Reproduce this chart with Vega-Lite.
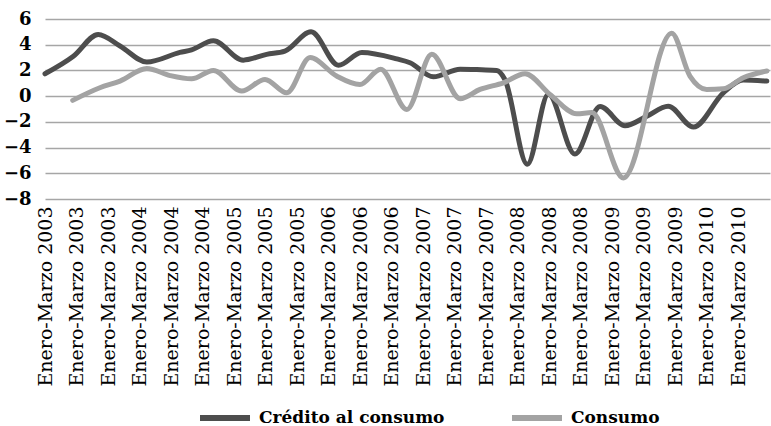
{
  "$schema": "https://vega.github.io/schema/vega-lite/v6.json",
  "autosize": "none",
  "width": 725,
  "height": 180,
  "padding": {"left": 45, "top": 19, "right": 1, "bottom": 227},
  "background": "white",
  "config": {
    "view": {"stroke": null},
    "font": "DejaVu Serif"
  },
  "data": {
    "values": [
      {"serie": "Crédito al consumo", "t": 0, "v": 1.74},
      {"serie": "Crédito al consumo", "t": 0.9, "v": 3.1},
      {"serie": "Crédito al consumo", "t": 1.69, "v": 4.8},
      {"serie": "Crédito al consumo", "t": 2.38, "v": 3.9},
      {"serie": "Crédito al consumo", "t": 3.23, "v": 2.65},
      {"serie": "Crédito al consumo", "t": 4.28, "v": 3.4},
      {"serie": "Crédito al consumo", "t": 4.65, "v": 3.6},
      {"serie": "Crédito al consumo", "t": 5.34, "v": 4.3},
      {"serie": "Crédito al consumo", "t": 6.29, "v": 2.8},
      {"serie": "Crédito al consumo", "t": 7.03, "v": 3.25},
      {"serie": "Crédito al consumo", "t": 7.61, "v": 3.5},
      {"serie": "Crédito al consumo", "t": 8.44, "v": 5.0},
      {"serie": "Crédito al consumo", "t": 9.31, "v": 2.4},
      {"serie": "Crédito al consumo", "t": 10.05, "v": 3.4},
      {"serie": "Crédito al consumo", "t": 11.16, "v": 2.9},
      {"serie": "Crédito al consumo", "t": 11.58, "v": 2.6},
      {"serie": "Crédito al consumo", "t": 12.32, "v": 1.5},
      {"serie": "Crédito al consumo", "t": 13.17, "v": 2.1},
      {"serie": "Crédito al consumo", "t": 13.85, "v": 2.05},
      {"serie": "Crédito al consumo", "t": 14.33, "v": 2.0},
      {"serie": "Crédito al consumo", "t": 14.59, "v": 1.3},
      {"serie": "Crédito al consumo", "t": 15.3, "v": -5.3},
      {"serie": "Crédito al consumo", "t": 15.97, "v": 0.15},
      {"serie": "Crédito al consumo", "t": 16.81, "v": -4.5},
      {"serie": "Crédito al consumo", "t": 17.61, "v": -0.8},
      {"serie": "Crédito al consumo", "t": 18.4, "v": -2.3},
      {"serie": "Crédito al consumo", "t": 19.09, "v": -1.56},
      {"serie": "Crédito al consumo", "t": 19.77, "v": -0.78},
      {"serie": "Crédito al consumo", "t": 20.57, "v": -2.4},
      {"serie": "Crédito al consumo", "t": 21.52, "v": 0.26},
      {"serie": "Crédito al consumo", "t": 22.15, "v": 1.25},
      {"serie": "Crédito al consumo", "t": 22.9, "v": 1.17},
      {"serie": "Consumo", "t": 0.88, "v": -0.33},
      {"serie": "Consumo", "t": 1.74, "v": 0.65},
      {"serie": "Consumo", "t": 2.38, "v": 1.17},
      {"serie": "Consumo", "t": 3.23, "v": 2.15},
      {"serie": "Consumo", "t": 3.97, "v": 1.6},
      {"serie": "Consumo", "t": 4.65, "v": 1.35},
      {"serie": "Consumo", "t": 5.34, "v": 2.0},
      {"serie": "Consumo", "t": 6.24, "v": 0.4},
      {"serie": "Consumo", "t": 6.98, "v": 1.3},
      {"serie": "Consumo", "t": 7.67, "v": 0.26},
      {"serie": "Consumo", "t": 8.41, "v": 3.0},
      {"serie": "Consumo", "t": 9.25, "v": 1.56},
      {"serie": "Consumo", "t": 9.99, "v": 0.9},
      {"serie": "Consumo", "t": 10.65, "v": 2.1},
      {"serie": "Consumo", "t": 11.48, "v": -1.04},
      {"serie": "Consumo", "t": 12.27, "v": 3.25},
      {"serie": "Consumo", "t": 13.17, "v": -0.2},
      {"serie": "Consumo", "t": 13.8, "v": 0.52},
      {"serie": "Consumo", "t": 14.54, "v": 1.04},
      {"serie": "Consumo", "t": 15.23, "v": 1.74},
      {"serie": "Consumo", "t": 16.02, "v": 0.13},
      {"serie": "Consumo", "t": 16.87, "v": -1.37},
      {"serie": "Consumo", "t": 17.35, "v": -1.28},
      {"serie": "Consumo", "t": 18.35, "v": -6.36},
      {"serie": "Consumo", "t": 19.88, "v": 4.9},
      {"serie": "Consumo", "t": 20.46, "v": 1.56},
      {"serie": "Consumo", "t": 20.99, "v": 0.52},
      {"serie": "Consumo", "t": 21.52, "v": 0.57},
      {"serie": "Consumo", "t": 22.15, "v": 1.43},
      {"serie": "Consumo", "t": 22.9, "v": 1.95}
    ]
  },
  "mark": {"type": "line", "interpolate": "monotone", "strokeWidth": 5, "strokeCap": "round", "strokeJoin": "round"},
  "encoding": {
    "x": {
      "field": "t",
      "type": "quantitative",
      "scale": {"domain": [0, 23], "nice": false, "zero": false},
      "axis": {
        "title": null,
        "values": [0, 1, 2, 3, 4, 5, 6, 7, 8, 9, 10, 11, 12, 13, 14, 15, 16, 17, 18, 19, 20, 21, 22],
        "labelExpr": "'Enero-Marzo ' + (2003 + floor(datum.value / 3))",
        "labelAngle": 270,
        "labelAlign": "right",
        "labelBaseline": "middle",
        "labelFont": "DejaVu Serif",
        "labelFontSize": 19,
        "labelColor": "#000000",
        "labelPadding": 7,
        "labelOverlap": false,
        "labelBound": false,
        "labelFlush": false,
        "ticks": false,
        "domain": false,
        "grid": false
      }
    },
    "y": {
      "field": "v",
      "type": "quantitative",
      "scale": {"domain": [-8, 6], "nice": false, "zero": false},
      "axis": {
        "title": null,
        "values": [-8, -6, -4, -2, 0, 2, 4, 6],
        "labelFont": "DejaVu Serif",
        "labelFontSize": 18,
        "labelFontWeight": "bold",
        "labelColor": "#000000",
        "labelPadding": 14,
        "ticks": false,
        "domain": false,
        "grid": true,
        "gridColor": "#a6a6a6",
        "gridWidth": 1.5
      }
    },
    "stroke": {
      "field": "serie",
      "type": "nominal",
      "sort": ["Crédito al consumo", "Consumo"],
      "scale": {"domain": ["Crédito al consumo", "Consumo"], "range": ["#4d4d4d", "#a3a3a3"]},
      "legend": {
        "title": null,
        "orient": "none",
        "legendX": 152,
        "legendY": 371,
        "direction": "horizontal",
        "symbolType": "stroke",
        "symbolSize": 2500,
        "symbolStrokeWidth": 6,
        "labelFont": "DejaVu Serif",
        "labelFontSize": 17,
        "labelFontWeight": "bold",
        "labelColor": "#000000",
        "labelOffset": 6,
        "columnPadding": 55,
        "labelLimit": 400
      }
    }
  }
}
